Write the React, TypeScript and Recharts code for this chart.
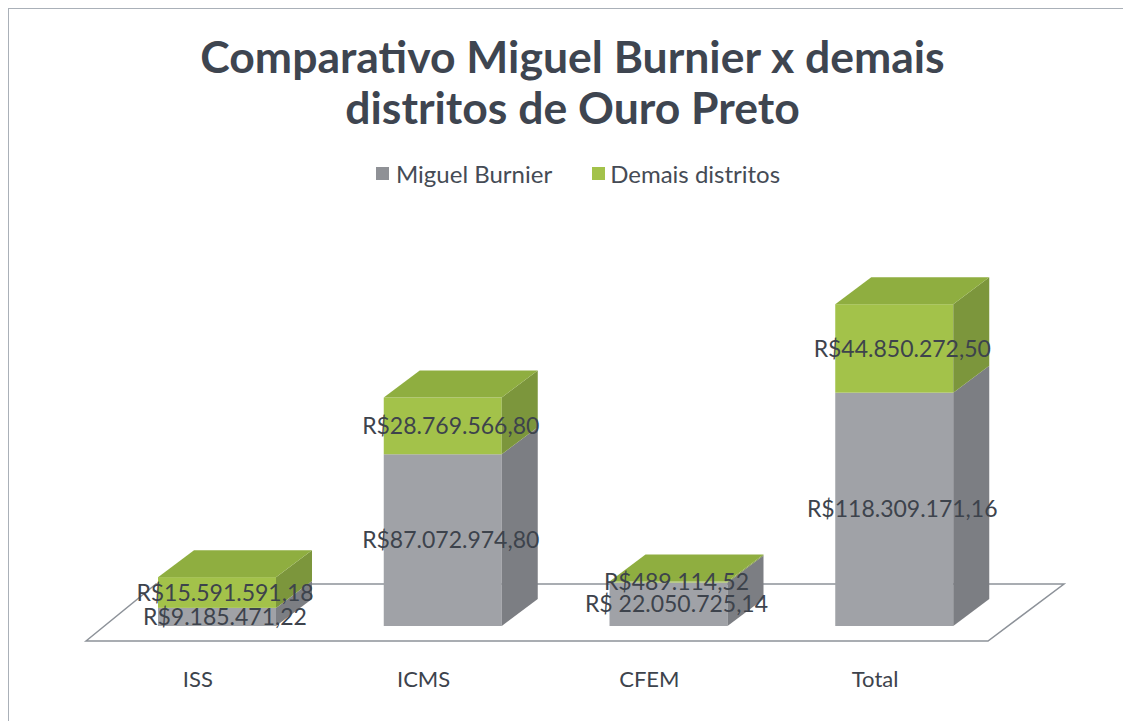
import React from 'react';
import { BarChart, Bar, XAxis, YAxis, LabelList } from 'recharts';

const categories = ['ISS', 'ICMS', 'CFEM', 'Total'];
const miguelBurnier = [9185471.22, 87072974.8, 22050725.14, 118309171.16];
const demaisDistritos = [15591591.18, 28769566.8, 489114.52, 44850272.5];
const miguelLabels = ['R$9.185.471,22', 'R$87.072.974,80', 'R$\u00a022.050.725,14', 'R$118.309.171,16'];
const demaisLabels = ['R$15.591.591,18', 'R$28.769.566,80', 'R$489.114,52', 'R$44.850.272,50'];

const chartData = categories.map((name, i) => ({
  name,
  mb: miguelBurnier[i],
  dd: demaisDistritos[i],
  mbLabel: miguelLabels[i],
  ddLabel: demaisLabels[i],
}));

const FONT = 'Lato, "Open Sans", sans-serif';
const TEXT = '#3d434c';
const DX = 36;
const DY = -27;

// 3d box: front + right side, top face only for the upper series
const makeBox = (front: string, side: string, top: string | null) => (props: any) => {
  const { x, y, width, height } = props;
  if (!height || height <= 0) return null;
  const r = x + width;
  return (
    <g>
      <rect x={x} y={y} width={width} height={height} fill={front} />
      <polygon
        points={`${r},${y} ${r + DX},${y + DY} ${r + DX},${y + height + DY} ${r},${y + height}`}
        fill={side}
      />
      {top && (
        <polygon
          points={`${x},${y} ${x + DX},${y + DY} ${r + DX},${y + DY} ${r},${y}`}
          fill={top}
        />
      )}
    </g>
  );
};

const GrayBox = makeBox('#a0a2a7', '#7c7e83', null);
const GreenBox = makeBox('#a3c24a', '#7c963c', '#8fae40');

const CategoryTick = ({ x, y, payload }: any) => (
  <text x={x - 19} y={y + 53} textAnchor="middle" fill={TEXT} fontSize={22} fontFamily={FONT}>
    {payload.value}
  </text>
);

const labelStyle = { fontSize: 23, fontFamily: FONT, fill: TEXT };

const App: React.FC = () => {
  return (
    <div
      style={{
        position: 'relative',
        width: 1123,
        height: 713,
        borderTop: '1px solid #aab0b8',
        borderLeft: '1px solid #aab0b8',
        boxSizing: 'border-box',
        background: '#fff',
        fontFamily: FONT,
      }}
    >
      <svg width={1123} height={713} style={{ position: 'absolute', left: 0, top: 0 }}>
        <polygon points="77,632 147,575 1055,575 979,632" fill="#fff" stroke="#8d9299" strokeWidth={1.5} />
      </svg>

      <div
        style={{
          position: 'absolute',
          top: 21,
          left: 2,
          width: 1123,
          textAlign: 'center',
          fontSize: 44.5,
          fontWeight: 700,
          lineHeight: '51px',
          color: '#3e4550',
        }}
      >
        Comparativo Miguel Burnier x demais
        <br />
        distritos de Ouro Preto
      </div>

      <div
        style={{
          position: 'absolute',
          top: 150,
          left: 367,
          display: 'flex',
          alignItems: 'center',
          fontSize: 24,
          color: '#454b55',
        }}
      >
        <span style={{ width: 13, height: 13, background: '#8f9196', display: 'inline-block', marginRight: 7 }} />
        <span style={{ marginRight: 40 }}>Miguel Burnier</span>
        <span style={{ width: 13, height: 13, background: '#a3c24a', display: 'inline-block', marginRight: 5 }} />
        <span>Demais distritos</span>
      </div>

      <div style={{ position: 'absolute', left: 0, top: 0 }}>
        <BarChart
          width={1123}
          height={713}
          data={chartData}
          margin={{ top: 262, right: 125, left: 95, bottom: 0 }}
          barCategoryGap={0}
        >
          <XAxis
            dataKey="name"
            axisLine={false}
            tickLine={false}
            tick={<CategoryTick />}
            height={96}
            interval={0}
          />
          <YAxis hide domain={[0, 180000000]} />
          <Bar dataKey="mb" stackId="a" barSize={118} shape={GrayBox} isAnimationActive={false}>
            <LabelList dataKey="mbLabel" position="center" dx={8} style={labelStyle} />
          </Bar>
          <Bar dataKey="dd" stackId="a" barSize={118} shape={GreenBox} isAnimationActive={false}>
            <LabelList dataKey="ddLabel" position="center" dx={8} style={labelStyle} />
          </Bar>
        </BarChart>
      </div>
    </div>
  );
};

export default App;
